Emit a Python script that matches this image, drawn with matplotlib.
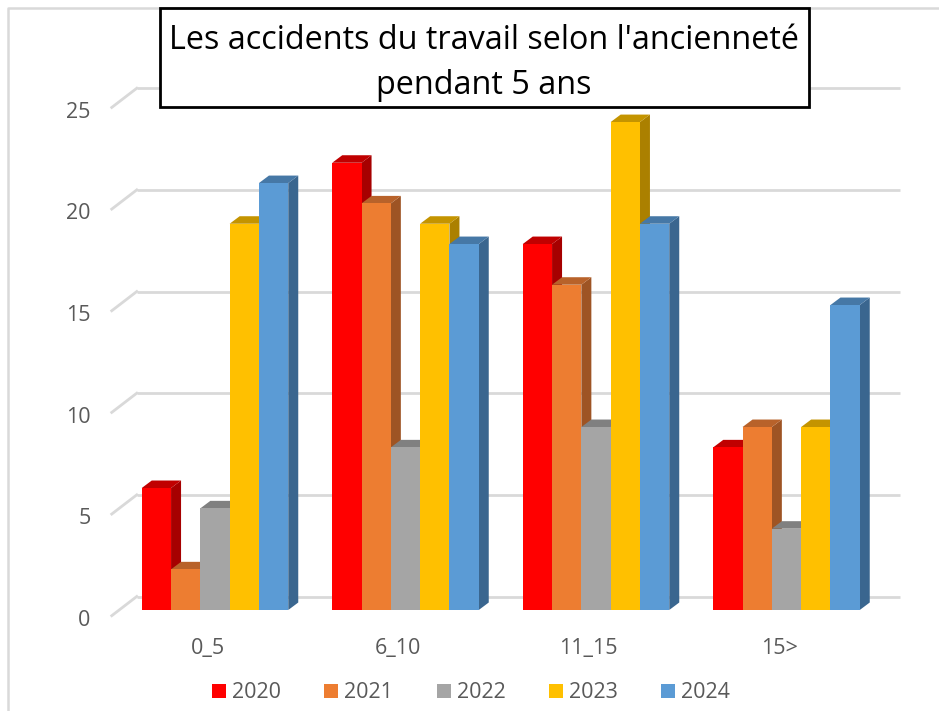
import numpy as np
import matplotlib
matplotlib.use('Agg')
import matplotlib.pyplot as plt
from matplotlib.lines import Line2D
from matplotlib.patches import Rectangle
from matplotlib.transforms import ScaledTranslation

plt.rcParams['font.family'] = ['Open Sans', 'DejaVu Sans']

categories = ['0_5', '6_10', '11_15', '15>']
years = ['2020', '2021', '2022', '2023', '2024']
v2020 = [6, 22, 18, 8]
v2021 = [2, 20, 16, 9]
v2022 = [5, 8, 9, 4]
v2023 = [19, 19, 24, 9]
v2024 = [21, 18, 19, 15]
y_ticks = [0, 5, 10, 15, 20, 25]
title = "Les accidents du travail selon l'ancienneté\npendant 5 ans"

series = [v2020, v2021, v2022, v2023, v2024]
front = ['#ff0000', '#ed7d31', '#a5a5a5', '#ffc000', '#5b9bd5']
top = ['#c00000', '#b8622a', '#808080', '#c49400', '#4678a6']
side = ['#a60000', '#9e5424', '#6e6e6e', '#ab8000', '#3a668f']

W, H = 939, 711
fig = plt.figure(figsize=(W / 100, H / 100), dpi=100)
ax = fig.add_axes([119.75 / W, (H - 610) / H, 762 / W, 508.25 / H])
ax.set_xlim(-0.5, 3.5)
ax.set_ylim(0, 25)

px_x = 1 / 190.5
px_y = 1 / 20.33
bar_w = 29.3 * px_x
dx = 10 * px_x
dy = 7.5 * px_y

# back wall grid + the slanted bit on the left
for t in y_ticks:
    ax.plot([-0.5 + 17 * px_x, 3.5 + 18 * px_x], [t + 13.5 * px_y] * 2, color='#d9d9d9', lw=2,
            clip_on=False, zorder=1, solid_capstyle='butt')
    ax.plot([-0.5 - 8 * px_x, -0.5 + 17 * px_x], [t - 5.7 * px_y, t + 13.5 * px_y], color='#d9d9d9',
            lw=2, clip_on=False, zorder=1)

x = np.arange(len(categories))
for i, vals in enumerate(series):
    offs = x + (i - 2) * bar_w
    z = 2 + i
    for xc, v in zip(offs, vals):
        x0, x1 = xc - bar_w / 2, xc + bar_w / 2
        ax.fill([x1, x1 + dx, x1 + dx, x1], [0, dy, v + dy, v], color=side[i], lw=0, clip_on=False, zorder=z)
        ax.fill([x0, x0 + dx, x1 + dx, x1], [v, v + dy, v + dy, v], color=top[i], lw=0, clip_on=False, zorder=z)
    ax.bar(offs, vals, bar_w, color=front[i], label=years[i], clip_on=False, zorder=z + 0.5)

for s in ax.spines.values():
    s.set_visible(False)
ax.patch.set_visible(False)

ax.set_xticks(x, categories)
ax.set_yticks(y_ticks, [str(t) for t in y_ticks])
ax.tick_params(axis='x', length=0, pad=20, labelsize=15.5, labelcolor='#595959')
ax.tick_params(axis='y', length=0, pad=21, labelsize=15.5, labelcolor='#595959')

off_x = ScaledTranslation(-7.5 / 100, 0, fig.dpi_scale_trans)
for lab in ax.get_xticklabels():
    lab.set_transform(lab.get_transform() + off_x)
off_y = ScaledTranslation(0, -8 / 100, fig.dpi_scale_trans)
for lab in ax.get_yticklabels():
    lab.set_transform(lab.get_transform() + off_y)

ax.legend(loc='center', bbox_to_anchor=(471 / W, (H - 693) / H), bbox_transform=fig.transFigure,
          ncol=5, frameon=False, fontsize=15.5, labelcolor='#595959', borderpad=0, borderaxespad=0,
          handlelength=0.65, handleheight=0.65, handletextpad=0.28, columnspacing=2.02)

# title box
fig.add_artist(Rectangle((159.5 / W, (H - 106.5) / H), 649 / W, 98 / H, transform=fig.transFigure,
                         facecolor='white', edgecolor='black', lw=2, zorder=5))
fig.text(484 / W, (H - 63) / H, title, ha='center', va='center', fontsize=23.3, color='black',
         linespacing=1.45, zorder=6)

# chart frame, only left and top show
fig.add_artist(Line2D([7.5 / W, 7.5 / W, 1], [0, (H - 8) / H, (H - 8) / H], color='#d9d9d9', lw=1.8,
                      transform=fig.transFigure, zorder=0))

fig.savefig('out.png', dpi=100)
